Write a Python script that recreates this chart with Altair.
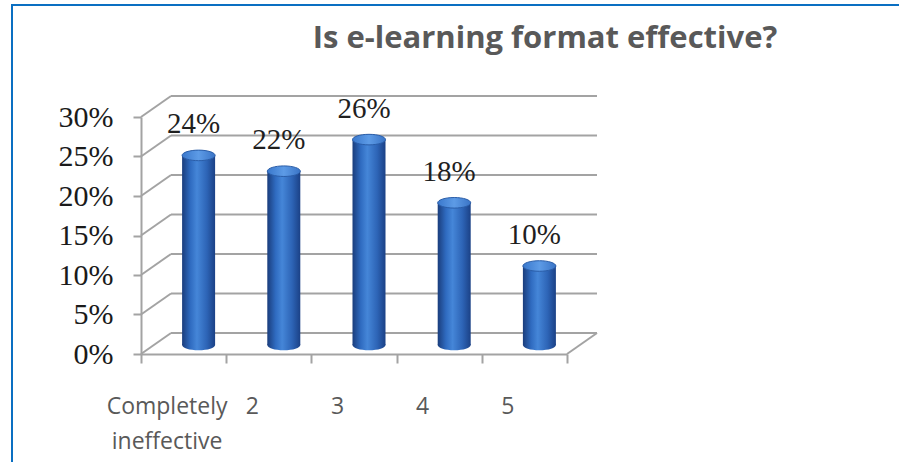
import altair as alt
import pandas as pd

# Survey answers on a 1-5 scale and the share of respondents per answer
categories = ["Completely ineffective", "2", "3", "4", "5"]
shares = [0.24, 0.22, 0.26, 0.18, 0.10]
# Gridline levels of the value axis
grid_levels = [0.0, 0.05, 0.10, 0.15, 0.20, 0.25, 0.30]

bars = pd.DataFrame({"answer": categories, "share": shares})
grid = pd.DataFrame({"level": grid_levels})

PLOT_W, PLOT_H = 426, 237
DEPTH_X, DEPTH_Y = 30, -21          # offset of the back wall from the front plane
MID_X, MID_Y = 15, -9               # bars stand half way into the depth
GRID_COLOR = "#a3a3a3"
SERIF = "Liberation Serif"
SANS = "Open Sans"

x_scale = alt.Scale(domain=categories, paddingInner=0, paddingOuter=0)
y_scale = alt.Scale(domain=[0, 0.3], nice=False, zero=True)

x_enc = alt.X(
    "answer:N",
    scale=x_scale,
    sort=categories,
    title=None,
    axis=alt.Axis(
        labelAngle=0,
        labelFont=SANS,
        labelFontSize=23,
        labelColor="#595959",
        labelExpr="split(datum.label, ' ')",
        labelLineHeight=35,
        labelPadding=32,
        labelOffset=-17,
        labelBaseline="top",
        labelOverlap=False,
        tickBand="extent",
        tickSize=9,
        tickColor=GRID_COLOR,
        tickWidth=2,
        domainColor=GRID_COLOR,
        domainWidth=2,
        grid=False,
    ),
)

y_axis = alt.Axis(
    values=grid_levels,
    format=".0%",
    labelFont=SERIF,
    labelFontSize=30,
    labelColor="#1a1a1a",
    labelPadding=20,
    labelOverlap=False,
    tickSize=8,
    tickColor=GRID_COLOR,
    tickWidth=2,
    domainColor=GRID_COLOR,
    domainWidth=2,
    grid=False,
    title=None,
)


def y_of(field):
    return alt.Y(field, scale=y_scale, axis=y_axis)


# Gridlines on the back wall
back_grid = alt.Chart(grid).mark_rule(
    color=GRID_COLOR, strokeWidth=2, yOffset=DEPTH_Y
).encode(
    x=alt.value(DEPTH_X),
    x2=alt.value(PLOT_W + DEPTH_X),
    y=y_of("level:Q"),
)

# Side wall: slanted lines joining the front axis ticks to the back wall
side_grid = alt.Chart(grid).mark_rule(
    color=GRID_COLOR, strokeWidth=2, y2Offset=DEPTH_Y
).encode(
    x=alt.value(0),
    x2=alt.value(DEPTH_X),
    y=y_of("level:Q"),
    y2="level:Q",
)

# Right edge of the floor
floor_edge = alt.Chart(grid).transform_filter("datum.level == 0").mark_rule(
    color=GRID_COLOR, strokeWidth=2, y2Offset=DEPTH_Y
).encode(
    x=alt.value(PLOT_W),
    x2=alt.value(PLOT_W + DEPTH_X),
    y=y_of("level:Q"),
    y2="level:Q",
)

body_fill = alt.Gradient(
    gradient="linear",
    x1=0, x2=1, y1=0, y2=0,
    stops=[
        alt.GradientStop(color="#1a3d7c", offset=0),
        alt.GradientStop(color="#2f6bc0", offset=0.25),
        alt.GradientStop(color="#4586d8", offset=0.45),
        alt.GradientStop(color="#2d64b6", offset=0.75),
        alt.GradientStop(color="#1b4186", offset=1),
    ],
)
top_fill = alt.Gradient(
    gradient="linear",
    x1=0, x2=1, y1=0, y2=0,
    stops=[
        alt.GradientStop(color="#3a78cc", offset=0),
        alt.GradientStop(color="#5d9be6", offset=0.5),
        alt.GradientStop(color="#3a74c6", offset=1),
    ],
)

ELLIPSE = "M-1,0 A1,0.32,0,1,1,1,0 A1,0.32,0,1,1,-1,0 Z"
BAR_W = 33

base = alt.Chart(bars).encode(x=x_enc)

cyl_bottom = base.transform_calculate(floor="0").mark_point(
    shape=ELLIPSE, size=BAR_W * BAR_W, filled=True, fill=body_fill,
    opacity=1, strokeWidth=0, xOffset=MID_X, yOffset=MID_Y,
).encode(y=y_of("floor:Q"))

cyl_body = base.mark_bar(
    size=BAR_W, fill=body_fill,
    xOffset=MID_X, x2Offset=MID_X, yOffset=MID_Y, y2Offset=MID_Y,
).encode(y=y_of("share:Q"))

cyl_top = base.mark_point(
    shape=ELLIPSE, size=BAR_W * BAR_W, filled=True, fill=top_fill,
    opacity=1, stroke="#2a5da8", strokeWidth=1,
    xOffset=MID_X, yOffset=MID_Y,
).encode(y=y_of("share:Q"))

value_labels = base.mark_text(
    font=SERIF, fontSize=29, color="#1f1f1f", baseline="middle",
    xOffset=MID_X, yOffset=MID_Y, dx=-5, dy=-31,
).encode(
    y=y_of("share:Q"),
    text=alt.Text("share:Q", format=".0%"),
)

# Blue frame around the whole figure
frame = alt.Chart(alt.Data(values=[{}])).mark_rect(
    fillOpacity=0, stroke="#0a6fc2", strokeWidth=2
).encode(
    x=alt.value(-129), x2=alt.value(PLOT_W + 400),
    y=alt.value(-112), y2=alt.value(PLOT_H + 200),
)

chart = alt.layer(
    frame, back_grid, side_grid, floor_edge,
    cyl_bottom, cyl_body, cyl_top, value_labels,
).properties(
    width=PLOT_W,
    height=PLOT_H,
    title=alt.TitleParams(
        "Is e-learning format effective?",
        font=SANS, fontSize=31, fontWeight="bold", color="#595959",
        anchor="middle", dx=191, dy=55,
    ),
    autosize=alt.AutoSizeParams(type="none"),
    padding={"left": 141, "top": 117, "right": 899 - 141 - PLOT_W, "bottom": 462 - 117 - PLOT_H},
    background="white",
).configure_view(strokeWidth=0)

chart.save("out.html", embed_options={"renderer": "svg", "actions": False})
